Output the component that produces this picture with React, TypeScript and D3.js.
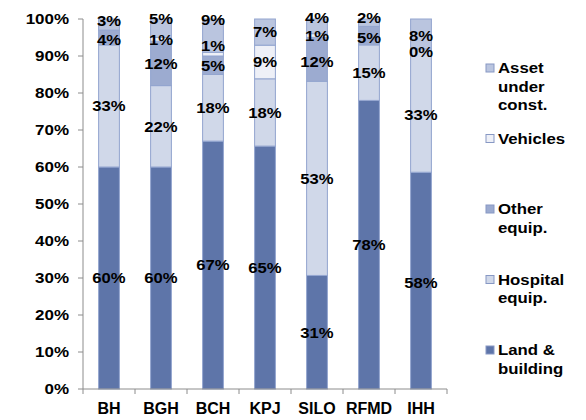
import React from "react";
import * as d3 from "d3";

// Fixed-asset mix by hospital group (% of total), stacked to 100%
const categories = ["BH", "BGH", "BCH", "KPJ", "SILO", "RFMD", "IHH"];
const landBuilding = [60, 60, 67, 65, 31, 78, 58];
const hospitalEquip = [33, 22, 18, 18, 53, 15, 33];
const otherEquip: (number | null)[] = [4, 12, 5, null, 12, 5, 0];
const vehicles: (number | null)[] = [null, 1, 1, 9, 1, null, null];
const assetUnderConst = [3, 5, 9, 7, 4, 2, 8];
const yTicks = [0, 0.1, 0.2, 0.3, 0.4, 0.5, 0.6, 0.7, 0.8, 0.9, 1];

const seriesKeys = ["land", "hosp", "other", "veh", "asset"];
const seriesNames: Record<string, string[]> = {
  land: ["Land &", "building"],
  hosp: ["Hospital", "equip."],
  other: ["Other", "equip."],
  veh: ["Vehicles"],
  asset: ["Asset", "under", "const."],
};
const seriesColor: Record<string, string> = {
  land: "#5E75A9",
  hosp: "#D0D8E9",
  other: "#9CABD0",
  veh: "#EEF0F7",
  asset: "#BAC5DF",
};

// label shifts (px) so crowded labels at the top of a column stay legible
const labelShift: Record<string, Record<string, number>> = {
  BH: { asset: -4, other: 2 },
  BGH: { asset: -10 },
  BCH: { asset: -16, veh: -8 },
  SILO: { asset: -9, other: 2 },
  RFMD: { asset: -5, other: 2 },
  IHH: { asset: 2, other: 3, hosp: 4, land: 2 },
};

const W = 586;
const H = 420;
const FONT = "'Liberation Sans', Arial, sans-serif";

type Row = { cat: string } & Record<string, number>;
const rows: Row[] = categories.map((cat, i) => ({
  cat,
  land: landBuilding[i],
  hosp: hospitalEquip[i],
  other: otherEquip[i] ?? 0,
  veh: vehicles[i] ?? 0,
  asset: assetUnderConst[i],
})) as Row[];
const rawValue: Record<string, (number | null)[]> = {
  land: landBuilding,
  hosp: hospitalEquip,
  other: otherEquip,
  veh: vehicles,
  asset: assetUnderConst,
};

function Stretched(props: {
  x: number;
  y: number;
  sx: number;
  size: number;
  anchor: string;
  children: React.ReactNode;
}) {
  return (
    <text
      transform={`translate(${props.x},${props.y}) scale(${props.sx},1)`}
      textAnchor={props.anchor}
      fontFamily={FONT}
      fontWeight="bold"
      fontSize={props.size}
      fill="#000"
    >
      {props.children}
    </text>
  );
}

export default function App() {
  const x = d3
    .scaleBand<string>()
    .domain(categories)
    .range([83, 447])
    .paddingInner(0.6)
    .paddingOuter(0.3);
  const y = d3.scaleLinear().domain([0, 1]).range([389, 19]);
  const stacked = d3
    .stack<Row>()
    .keys(seriesKeys)
    .offset(d3.stackOffsetExpand)(rows);

  const bw = x.bandwidth();
  const step = x.step();
  const legendTop = 68;
  const legendStep = 70.5;
  const legendOrder = ["asset", "veh", "other", "hosp", "land"];

  return (
    <svg
      width={W}
      height={H}
      style={{ position: "absolute", left: 0, top: 0, background: "#fff" }}
    >
      {/* stacked columns */}
      {stacked.map((s) => (
        <g key={s.key}>
          {s.map((d, i) => {
            const h = y(d[0]) - y(d[1]);
            if (h <= 0) return null;
            return (
              <rect
                key={i}
                x={x(categories[i])!}
                y={y(d[1])}
                width={bw}
                height={h}
                fill={seriesColor[s.key]}
                stroke="#93A5CF"
                strokeWidth={1}
              />
            );
          })}
        </g>
      ))}

      {/* axes */}
      <g stroke="#8C8C8C" strokeWidth={1} fill="none">
        <line x1={83} x2={83} y1={y(1)} y2={y(0)} />
        {yTicks.map((t) => (
          <line key={t} x1={78} x2={83} y1={y(t)} y2={y(t)} />
        ))}
        <line x1={83} x2={447} y1={y(0)} y2={y(0)} />
        {d3.range(categories.length + 1).map((i) => (
          <line
            key={i}
            x1={83 + i * step}
            x2={83 + i * step}
            y1={y(0)}
            y2={y(0) + 5}
          />
        ))}
      </g>
      {yTicks.map((t) => (
        <Stretched key={t} x={69} y={y(t) + 5} sx={1.17} size={14.5} anchor="end">
          {d3.format(".0%")(t)}
        </Stretched>
      ))}
      {categories.map((c) => (
        <Stretched key={c} x={x(c)! + bw / 2} y={414} sx={1} size={16} anchor="middle">
          {c}
        </Stretched>
      ))}

      {/* data labels */}
      {stacked.map((s) =>
        s.map((d, i) => {
          const v = rawValue[s.key][i];
          if (v === null) return null;
          const cat = categories[i];
          const shift = labelShift[cat]?.[s.key] ?? 0;
          const cy = y((d[0] + d[1]) / 2) + shift;
          return (
            <Stretched
              key={s.key + i}
              x={x(cat)! + bw / 2}
              y={cy + 5.3}
              sx={1.11}
              size={15}
              anchor="middle"
            >
              {v + "%"}
            </Stretched>
          );
        })
      )}

      {/* legend */}
      {legendOrder.map((k, j) => {
        const cy = legendTop + j * legendStep;
        return (
          <g key={k}>
            <rect
              x={486}
              y={cy - 4}
              width={8}
              height={8}
              fill={seriesColor[k]}
              stroke="#8798C4"
              strokeWidth={1}
            />
            {seriesNames[k].map((line, li) => (
              <Stretched
                key={li}
                x={498}
                y={cy + 5.3 + li * 18.3}
                sx={1.12}
                size={15}
                anchor="start"
              >
                {line}
              </Stretched>
            ))}
          </g>
        );
      })}
    </svg>
  );
}
